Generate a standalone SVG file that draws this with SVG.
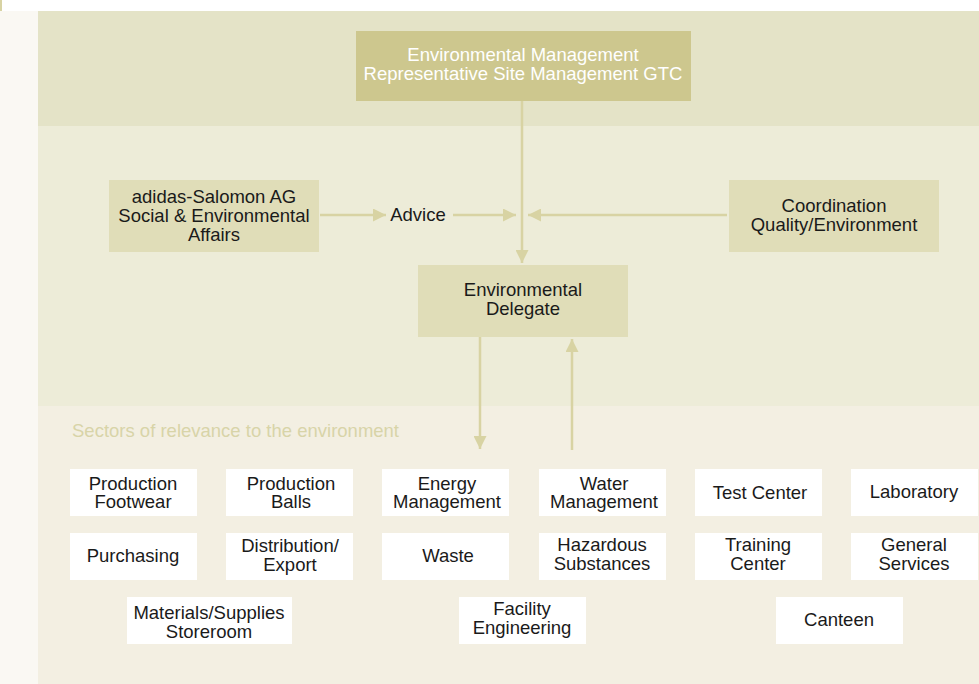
<svg xmlns="http://www.w3.org/2000/svg" width="979" height="684" viewBox="0 0 979 684">
<defs>
<style>
text{font-family:"Liberation Sans",Arial,sans-serif;font-size:18.5px;text-anchor:middle;fill:#1a1a1a}
.w{fill:#ffffff}
.sec{fill:#ffffff}
.tan{fill:#e0ddb8}
.ln{stroke:#d8d3a3;stroke-width:2.5;fill:none}
</style>
<marker id="ah" viewBox="0 0 10 10" refX="10" refY="5" markerWidth="5.2" markerHeight="5.2" orient="auto" markerUnits="strokeWidth"><path d="M0,0 L10,5 L0,10 z" fill="#d8d3a3"/></marker>
</defs>
<rect x="0" y="0" width="979" height="684" fill="#ffffff"/>
<rect x="0" y="0" width="2" height="11" fill="#d8d3a3"/>
<rect x="0" y="11" width="38" height="673" fill="#faf8f3"/>
<rect x="38" y="11" width="941" height="115" fill="#e4e3c7"/>
<rect x="38" y="126" width="941" height="280" fill="#edecd8"/>
<rect x="38" y="406" width="941" height="278" fill="#f3efe2"/>
<text x="72" y="437" style="text-anchor:start;fill:#d8d4a8;font-size:18.5px">Sectors of relevance to the environment</text>
<g id="connectors">
<line class="ln" x1="522" y1="101" x2="522" y2="263" marker-end="url(#ah)"/>
<line class="ln" x1="320" y1="215" x2="386" y2="215" marker-end="url(#ah)"/>
<line class="ln" x1="453" y1="215" x2="516" y2="215" marker-end="url(#ah)"/>
<line class="ln" x1="727" y1="215" x2="528" y2="215" marker-end="url(#ah)"/>
<line class="ln" x1="480" y1="337" x2="480" y2="449" marker-end="url(#ah)"/>
<line class="ln" x1="572" y1="450" x2="572" y2="339" marker-end="url(#ah)"/>
</g>
<g id="n-top"><rect x="356" y="31" width="335" height="70" fill="#cdc78e"/><text class="w" x="523" y="61">Environmental Management</text><text class="w" x="523" y="80">Representative Site Management GTC</text></g>
<g id="n-adidas"><rect class="tan" x="109" y="180" width="210" height="72"/><text x="214" y="203">adidas-Salomon AG</text><text x="214" y="222">Social &amp; Environmental</text><text x="214" y="241">Affairs</text></g>
<g id="n-advice"><text x="418" y="221">Advice</text></g>
<g id="n-coord"><rect class="tan" x="729" y="180" width="210" height="72"/><text x="834" y="212">Coordination</text><text x="834" y="231">Quality/Environment</text></g>
<g id="n-delegate"><rect class="tan" x="418" y="265" width="210" height="72"/><text x="523" y="296">Environmental</text><text x="523" y="315">Delegate</text></g>
<g id="n-prodfoot"><rect class="sec" x="70" y="469" width="127" height="47"/><text x="133" y="490">Production</text><text x="133" y="508">Footwear</text></g>
<g id="n-prodballs"><rect class="sec" x="226" y="469" width="127" height="47"/><text x="291" y="490">Production</text><text x="291" y="508">Balls</text></g>
<g id="n-energy"><rect class="sec" x="382" y="469" width="127" height="47"/><text x="447" y="490">Energy</text><text x="447" y="508">Management</text></g>
<g id="n-water"><rect class="sec" x="539" y="469" width="127" height="47"/><text x="604" y="490">Water</text><text x="604" y="508">Management</text></g>
<g id="n-test"><rect class="sec" x="695" y="469" width="127" height="47"/><text x="760" y="499">Test Center</text></g>
<g id="n-lab"><rect class="sec" x="851" y="469" width="127" height="47"/><text x="914" y="498">Laboratory</text></g>
<g id="n-purch"><rect class="sec" x="70" y="533" width="127" height="47"/><text x="133" y="562">Purchasing</text></g>
<g id="n-dist"><rect class="sec" x="226" y="533" width="127" height="47"/><text x="290" y="552">Distribution/</text><text x="290" y="571">Export</text></g>
<g id="n-waste"><rect class="sec" x="382" y="533" width="127" height="47"/><text x="448" y="562">Waste</text></g>
<g id="n-haz"><rect class="sec" x="539" y="533" width="127" height="47"/><text x="602" y="551">Hazardous</text><text x="602" y="570">Substances</text></g>
<g id="n-train"><rect class="sec" x="695" y="533" width="127" height="47"/><text x="758" y="551">Training</text><text x="758" y="570">Center</text></g>
<g id="n-gen"><rect class="sec" x="851" y="533" width="127" height="47"/><text x="914" y="551">General</text><text x="914" y="570">Services</text></g>
<g id="n-mat"><rect class="sec" x="127" y="597" width="165" height="47"/><text x="209" y="619">Materials/Supplies</text><text x="209" y="638">Storeroom</text></g>
<g id="n-fac"><rect class="sec" x="459" y="597" width="127" height="47"/><text x="522" y="615">Facility</text><text x="522" y="634">Engineering</text></g>
<g id="n-cant"><rect class="sec" x="776" y="597" width="127" height="47"/><text x="839" y="626">Canteen</text></g>
</svg>
